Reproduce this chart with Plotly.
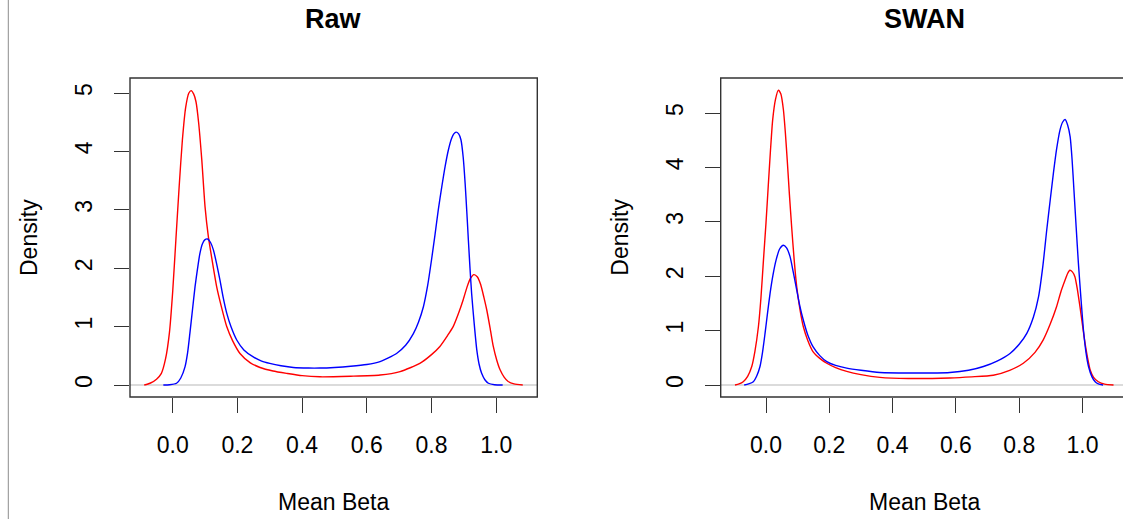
import plotly.graph_objects as go
from plotly.subplots import make_subplots

W, H = 1123, 519

# ---------------- data ----------------
panel_titles = ["Raw", "SWAN"]
x_tick_vals = [0.0, 0.2, 0.4, 0.6, 0.8, 1.0]
x_tick_text = ["0.0", "0.2", "0.4", "0.6", "0.8", "1.0"]
y_tick_vals = [0, 1, 2, 3, 4, 5]
y_tick_text = ["0", "1", "2", "3", "4", "5"]
x_label = "Mean Beta"
y_label = "Density"

# Raw panel
raw_red_x = [-0.088, -0.07, -0.05, -0.035, -0.022, -0.01, 0.0, 0.01, 0.02, 0.03, 0.04, 0.05,
             0.057, 0.065, 0.072, 0.08, 0.09, 0.10, 0.11, 0.12, 0.136, 0.15, 0.167, 0.185,
             0.208, 0.24, 0.27, 0.31, 0.352, 0.40, 0.455, 0.55, 0.641, 0.703, 0.764, 0.80,
             0.826, 0.85, 0.867, 0.885, 0.898, 0.91, 0.92, 0.931, 0.942, 0.952, 0.962, 0.971,
             0.981, 0.991, 1.002, 1.012, 1.025, 1.037, 1.055, 1.082]
raw_red_y = [0.0, 0.03, 0.10, 0.20, 0.45, 0.90, 1.60, 2.50, 3.40, 4.20, 4.75, 5.00,
             5.04, 4.98, 4.85, 4.50, 3.85, 3.05, 2.55, 2.20, 1.68, 1.35, 1.00, 0.76,
             0.54, 0.38, 0.30, 0.24, 0.20, 0.16, 0.14, 0.15, 0.17, 0.23, 0.37, 0.52,
             0.66, 0.85, 1.00, 1.25, 1.46, 1.68, 1.82, 1.89, 1.85, 1.72, 1.50, 1.28,
             0.98, 0.66, 0.42, 0.26, 0.13, 0.06, 0.02, 0.0]
raw_blue_x = [-0.029, -0.01, 0.012, 0.025, 0.038, 0.046, 0.053, 0.061, 0.069, 0.077, 0.084,
              0.092, 0.100, 0.108, 0.117, 0.126, 0.136, 0.146, 0.156, 0.167, 0.18, 0.198,
              0.22, 0.249, 0.275, 0.30, 0.335, 0.373, 0.42, 0.455, 0.50, 0.55, 0.60, 0.641,
              0.665, 0.692, 0.72, 0.744, 0.76, 0.775, 0.788, 0.800, 0.811, 0.821, 0.832,
              0.842, 0.852, 0.862, 0.869, 0.876, 0.884, 0.891, 0.898, 0.904, 0.909, 0.914,
              0.919, 0.924, 0.932, 0.940, 0.947, 0.955, 0.965, 0.976, 0.995, 1.020]
raw_blue_y = [0.0, 0.005, 0.03, 0.12, 0.31, 0.55, 0.88, 1.28, 1.68, 2.00, 2.25,
              2.42, 2.49, 2.50, 2.44, 2.31, 2.07, 1.80, 1.50, 1.23, 1.00, 0.77,
              0.60, 0.48, 0.41, 0.37, 0.33, 0.30, 0.29, 0.29, 0.30, 0.32, 0.35, 0.40,
              0.46, 0.54, 0.68, 0.88, 1.08, 1.34, 1.70, 2.14, 2.58, 3.00, 3.40,
              3.74, 4.02, 4.22, 4.30, 4.33, 4.30, 4.20, 3.90, 3.45, 2.98, 2.48,
              2.00, 1.57, 1.05, 0.60, 0.36, 0.20, 0.09, 0.03, 0.005, 0.0]

# SWAN panel
swan_red_x = [-0.098, -0.085, -0.072, -0.058, -0.045, -0.035, -0.024, -0.016, -0.008, 0.0,
              0.007, 0.014, 0.021, 0.030, 0.039, 0.047, 0.055, 0.061, 0.067, 0.074, 0.081,
              0.089, 0.097, 0.107, 0.118, 0.132, 0.149, 0.17, 0.192, 0.22, 0.255, 0.30,
              0.36, 0.45, 0.581, 0.65, 0.718, 0.77, 0.813, 0.85, 0.876, 0.898, 0.918,
              0.932, 0.945, 0.953, 0.960, 0.968, 0.976, 0.984, 0.992, 1.000, 1.008, 1.016,
              1.024, 1.035, 1.050, 1.070, 1.098]
swan_red_y = [0.0, 0.02, 0.06, 0.16, 0.34, 0.62, 1.07, 1.60, 2.30, 2.98,
              3.65, 4.30, 4.87, 5.25, 5.42, 5.35, 5.06, 4.65, 4.14, 3.50, 2.91,
              2.30, 1.81, 1.40, 1.07, 0.82, 0.61, 0.49, 0.40, 0.32, 0.25, 0.19,
              0.14, 0.12, 0.13, 0.15, 0.18, 0.27, 0.40, 0.60, 0.83, 1.12, 1.44,
              1.72, 1.93, 2.05, 2.11, 2.08, 1.99, 1.75, 1.44, 1.10, 0.77, 0.50,
              0.28, 0.14, 0.06, 0.015, 0.0]
swan_blue_x = [-0.069, -0.055, -0.040, -0.029, -0.019, -0.011, -0.003, 0.005, 0.013, 0.022,
               0.032, 0.043, 0.055, 0.065, 0.076, 0.086, 0.097, 0.107, 0.118, 0.132, 0.149,
               0.17, 0.192, 0.22, 0.255, 0.30, 0.36, 0.45, 0.581, 0.64, 0.687, 0.73, 0.771,
               0.80, 0.824, 0.845, 0.861, 0.875, 0.887, 0.898, 0.908, 0.918, 0.929, 0.937,
               0.945, 0.953, 0.961, 0.967, 0.973, 0.980, 0.987, 0.995, 1.003, 1.011, 1.019,
               1.030, 1.040, 1.050, 1.065]
swan_blue_y = [0.0, 0.02, 0.06, 0.17, 0.34, 0.60, 0.95, 1.33, 1.69, 2.02,
               2.30, 2.50, 2.57, 2.52, 2.36, 2.08, 1.75, 1.45, 1.19, 0.92, 0.70,
               0.54, 0.43, 0.36, 0.31, 0.27, 0.23, 0.22, 0.23, 0.27, 0.34, 0.44, 0.58,
               0.75, 0.95, 1.25, 1.62, 2.20, 2.85, 3.40, 3.89, 4.33, 4.69, 4.83,
               4.88, 4.78, 4.56, 4.15, 3.58, 2.90, 2.24, 1.60, 1.01, 0.60, 0.34,
               0.15, 0.06, 0.02, 0.0]

red = "#FF0000"
blue = "#0000FF"

# ---------------- layout geometry (pixels) ----------------
box_top, box_bot = 78.0, 397.0
L_x0, L_x1 = 130.0, 537.3
R_x0, R_x1 = 720.7, 1128.7


def px(x):
    return x / W


def py(y):
    return 1 - y / H


fig = make_subplots(rows=1, cols=2)

line_kw = dict(width=1.4, shape="spline", smoothing=0.6)
fig.add_trace(go.Scatter(x=raw_red_x, y=raw_red_y, mode="lines", line=dict(color=red, **line_kw),
                         showlegend=False), row=1, col=1)
fig.add_trace(go.Scatter(x=raw_blue_x, y=raw_blue_y, mode="lines", line=dict(color=blue, **line_kw),
                         showlegend=False), row=1, col=1)
fig.add_trace(go.Scatter(x=swan_red_x, y=swan_red_y, mode="lines", line=dict(color=red, **line_kw),
                         showlegend=False), row=1, col=2)
fig.add_trace(go.Scatter(x=swan_blue_x, y=swan_blue_y, mode="lines", line=dict(color=blue, **line_kw),
                         showlegend=False), row=1, col=2)

font_family = "Liberation Sans, Arial, Helvetica, sans-serif"
tick_font = dict(family=font_family, size=23, color="black")

common_x = dict(tickmode="array", tickvals=x_tick_vals, ticktext=x_tick_text, ticks="outside",
                ticklen=15, tickwidth=1.2, tickcolor="#333", showgrid=False, zeroline=False,
                showline=False, tickfont=tick_font, automargin=False, ticklabelstandoff=12)
common_y = dict(tickmode="array", tickvals=y_tick_vals, ticktext=y_tick_text, ticks="outside",
                ticklen=15, tickwidth=1.2, tickcolor="#333", showgrid=False, zeroline=False,
                showline=False, tickfont=tick_font, tickangle=-90, automargin=False,
                ticklabelstandoff=13)

# left panel: x data scale 0 -> 172.7 px, 1 -> 496.2 px
L_zero, L_unit = 172.7, 323.5
fig.update_xaxes(domain=[px(L_x0), px(L_x1)],
                 range=[(L_x0 - L_zero) / L_unit, (L_x1 - L_zero) / L_unit], row=1, col=1, **common_x)
# right panel: 0 -> 766 px, 1 -> 1082.5 px ; domain capped at window edge
R_zero, R_unit = 766.0, 316.5
fig.update_xaxes(domain=[px(R_x0), 1.0],
                 range=[(R_x0 - R_zero) / R_unit, (W - R_zero) / R_unit], row=1, col=2, **common_x)

# y scales
Ly0, Lyu = 385.0, 58.4
fig.update_yaxes(domain=[py(box_bot), py(box_top)],
                 range=[-(box_bot - Ly0) / Lyu, (Ly0 - box_top) / Lyu], row=1, col=1, **common_y)
Ry0, Ryu = 385.0, 54.4
fig.update_yaxes(domain=[py(box_bot), py(box_top)],
                 range=[-(box_bot - Ry0) / Ryu, (Ry0 - box_top) / Ryu], row=1, col=2, **common_y)

shapes = []
# zero reference lines (gray)
for xr, yr in (("x domain", "y"), ("x2 domain", "y2")):
    shapes.append(dict(type="line", xref=xr, yref=yr, x0=0, x1=1, y0=0, y1=0,
                       line=dict(color="#CFCFCF", width=1.5), layer="below"))
# plot boxes
for x0, x1 in ((L_x0, L_x1), (R_x0, R_x1)):
    shapes.append(dict(type="rect", xref="paper", yref="paper", x0=px(x0), x1=px(x1),
                       y0=py(box_bot), y1=py(box_top), line=dict(color="#333", width=1.4),
                       fillcolor="rgba(0,0,0,0)"))
# thin gray border at the far left of the picture
shapes.append(dict(type="line", xref="paper", yref="paper", x0=px(8.3), x1=px(8.3), y0=0, y1=1,
                   line=dict(color="#8C8C8C", width=1)))

annotations = []
centers = [(L_x0 + L_x1) / 2, (R_x0 + R_x1) / 2]
for title, cx, bx0 in zip(panel_titles, centers, (L_x0, R_x0)):
    annotations.append(dict(text="<b>%s</b>" % title, x=px(cx), y=py(19), xref="paper", yref="paper",
                            showarrow=False, xanchor="center", yanchor="middle",
                            font=dict(family=font_family, size=27, color="black")))
    annotations.append(dict(text=x_label, x=px(cx), y=py(502), xref="paper", yref="paper",
                            showarrow=False, xanchor="center", yanchor="middle",
                            font=dict(family=font_family, size=23, color="black")))
    annotations.append(dict(text=y_label, x=px(bx0 - 101.5), y=py((box_top + box_bot) / 2),
                            xref="paper", yref="paper", textangle=-90,
                            showarrow=False, xanchor="center", yanchor="middle",
                            font=dict(family=font_family, size=23, color="black")))

fig.update_layout(width=W, height=H, margin=dict(l=0, r=0, t=0, b=0),
                  paper_bgcolor="white", plot_bgcolor="white",
                  shapes=shapes, annotations=annotations, showlegend=False)

fig.write_html("out.html", config={"displayModeBar": False})
